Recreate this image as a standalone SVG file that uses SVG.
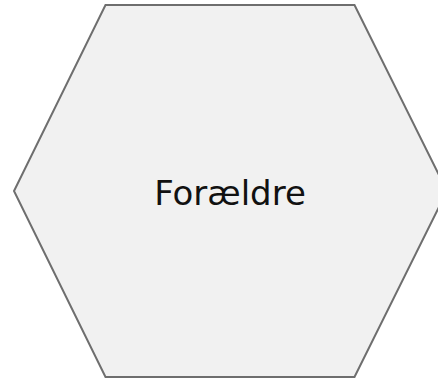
<svg xmlns="http://www.w3.org/2000/svg" width="438" height="380" viewBox="0 0 438 380">
<style>
.node{fill:#f1f1f1;stroke:#6e6e6e;stroke-width:2}
.lbl{font-family:"DejaVu Sans","Open Sans",sans-serif;font-size:34px;fill:#111;text-anchor:middle}
</style>
<rect width="438" height="380" fill="#ffffff"/>
<g id="connectors"></g>
<g id="node-foraeldre">
<polygon class="node" points="105.5,5 354.5,5 447,191 354.5,377 105.5,377 14,191"/>
<text class="lbl" x="230" y="205">Forældre</text>
</g>
</svg>
